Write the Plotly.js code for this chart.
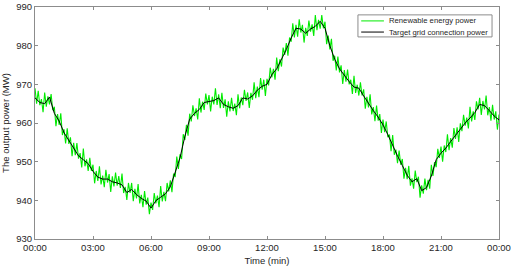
<!DOCTYPE html>
<html>
<head>
<meta charset="utf-8">
<script src="https://cdn.plot.ly/plotly-3.0.1.min.js"></script>
<style>
  html, body { margin: 0; padding: 0; background: #fff; }
  #chart { width: 512px; height: 272px; }
</style>
</head>
<body>
<div id="chart"></div>
<script>
// minutes since midnight, one sample every 5 min for the green series
const greenTimes = [];
for (let m = 0; m <= 1440; m += 5) greenTimes.push(m);

// renewable energy power (MW), every 5 min
const renewablePower = [
  969.0, 965.0, 968.3, 964.6, 966.2, 962.8, 967.9, 964.2, 966.9, 964.8, 967.5, 963.3,
  964.2, 959.2, 962.3, 959.5, 962.5, 956.9, 958.4, 954.7, 958.6, 954.6, 956.3, 951.4,
  954.9, 951.7, 954.8, 950.8, 952.2, 948.5, 953.4, 948.8, 950.6, 947.6, 951.0, 947.6,
  949.2, 944.4, 947.6, 945.0, 948.8, 944.1, 946.4, 943.4, 947.9, 944.6, 946.8, 942.2,
  946.2, 943.6, 947.2, 943.8, 946.3, 943.2, 946.9, 941.9, 943.5, 940.1, 944.5, 941.9,
  944.5, 939.8, 943.0, 940.5, 944.2, 939.2, 941.4, 938.2, 942.4, 938.9, 940.7, 936.4,
  939.4, 937.5, 941.9, 939.2, 941.2, 938.2, 943.7, 939.7, 942.2, 939.8, 944.5, 942.3,
  945.2, 942.1, 946.9, 946.0, 951.3, 948.1, 951.9, 950.7, 957.1, 955.6, 959.5, 956.7,
  962.4, 960.4, 964.6, 961.8, 963.8, 960.9, 966.4, 962.7, 965.5, 963.4, 967.6, 964.8,
  967.2, 963.0, 966.8, 964.8, 969.0, 964.7, 967.4, 963.8, 967.8, 963.9, 966.1, 961.6,
  965.6, 963.0, 966.5, 963.1, 965.0, 962.0, 967.4, 963.8, 966.6, 964.6, 968.6, 965.7,
  967.9, 963.9, 967.8, 966.0, 970.5, 966.4, 969.4, 966.7, 971.6, 968.6, 971.2, 967.0,
  971.4, 969.7, 974.3, 971.8, 974.0, 971.2, 976.9, 973.4, 976.5, 974.6, 979.5, 977.6,
  980.7, 977.4, 982.1, 981.0, 985.8, 982.1, 985.4, 982.3, 986.8, 983.4, 985.4, 980.8,
  984.6, 982.5, 986.5, 983.6, 985.5, 982.5, 987.9, 984.0, 986.7, 984.4, 987.9, 984.5,
  986.2, 980.4, 982.6, 979.0, 981.8, 976.1, 977.4, 973.6, 977.2, 973.1, 974.9, 970.1,
  973.7, 970.7, 973.8, 970.0, 971.2, 967.5, 972.2, 967.8, 969.9, 967.1, 970.5, 967.1,
  968.7, 963.7, 966.8, 964.0, 967.4, 962.2, 964.1, 960.5, 964.5, 960.6, 962.3, 957.4,
  960.9, 957.6, 960.4, 956.3, 957.0, 952.7, 956.9, 951.8, 953.1, 949.6, 952.9, 949.2,
  950.7, 945.6, 948.4, 945.5, 948.9, 943.8, 945.7, 943.0, 947.7, 944.7, 946.1, 940.7,
  943.9, 941.7, 945.6, 942.6, 945.3, 943.0, 949.2, 946.3, 949.9, 948.6, 953.3, 951.0,
  953.9, 950.0, 954.2, 952.5, 957.1, 953.0, 956.1, 953.6, 958.7, 955.9, 958.9, 955.1,
  959.9, 957.9, 962.1, 959.3, 961.4, 958.6, 964.2, 960.4, 963.0, 960.8, 965.6, 963.5,
  966.5, 962.1, 965.7, 963.5, 967.1, 962.0, 964.1, 960.6, 964.7, 960.9, 963.0, 958.3,
  962.2
];

// target grid connection power (MW), every 15 min
const targetTimes = [];
for (let m = 0; m <= 1440; m += 15) targetTimes.push(m);
const targetPower = [
  966.5, 965.3, 965.0, 966.7, 962.5, 960.5, 957.5, 955.5, 953.5, 951.5, 950.5, 949.5,
  947.5, 946.0, 945.5, 945.5, 944.8, 944.5, 944.0, 942.0, 942.8, 941.5, 940.5, 939.8,
  938.0, 939.9, 940.8, 941.7, 943.5, 947.0, 951.0, 956.5, 961.0, 962.5, 963.5, 965.3,
  965.5, 965.8, 966.5, 964.8, 964.2, 963.8, 964.5, 966.5, 966.2, 967.0, 968.5, 969.5,
  970.0, 972.5, 974.0, 976.5, 979.0, 982.0, 984.5, 984.3, 983.2, 984.3, 985.0, 986.3,
  984.5, 980.0, 976.5, 974.0, 972.3, 970.7, 969.3, 969.0, 967.0, 965.0, 963.2, 961.5,
  959.5, 957.0, 954.0, 951.5, 949.0, 946.5, 944.8, 945.6, 942.5, 943.3, 946.3, 950.5,
  952.2, 953.5, 955.2, 956.8, 958.5, 960.0, 961.3, 962.7, 964.8, 964.5, 963.2, 961.8,
  960.8
];

const seriesNames = ['Renewable energy power', 'Target grid connection power'];
const seriesColors = ['rgb(0,235,0)', '#000000'];

const tickVals = [0, 180, 360, 540, 720, 900, 1080, 1260, 1440];
const tickText = ['00:00', '03:00', '06:00', '09:00', '12:00', '15:00', '18:00', '21:00', '00:00'];
const yTicks = [930, 940, 950, 960, 970, 980, 990];

const font = { family: 'Liberation Sans, Arial, sans-serif', size: 9.5, color: '#262626' };
const axisGrey = '#8c8c8c';

const traces = [
  {
    x: greenTimes, y: renewablePower, type: 'scatter', mode: 'lines',
    name: seriesNames[0], line: { color: seriesColors[0], width: 1.1 }
  },
  {
    x: targetTimes, y: targetPower, type: 'scatter', mode: 'lines',
    name: seriesNames[1], line: { color: seriesColors[1], width: 1 }
  }
];

// hand-built legend box (plotly's own legend rows are too tall for this one)
const legBox = { x0: 0.696, x1: 0.985, y0: 0.871, y1: 0.966 };
const legRows = [0.940, 0.892];
const shapes = [{
  type: 'rect', xref: 'paper', yref: 'paper',
  x0: legBox.x0, x1: legBox.x1, y0: legBox.y0, y1: legBox.y1,
  fillcolor: '#fff', line: { color: axisGrey, width: 1 }, layer: 'above'
}];
const annotations = [];
seriesNames.forEach((name, i) => {
  shapes.push({
    type: 'line', xref: 'paper', yref: 'paper',
    x0: 0.703, x1: 0.752, y0: legRows[i], y1: legRows[i],
    line: { color: seriesColors[i], width: 1 }, layer: 'above'
  });
  annotations.push({
    xref: 'paper', yref: 'paper', x: 0.758, y: legRows[i],
    xanchor: 'left', yanchor: 'middle', showarrow: false,
    text: name, font: { family: font.family, size: 7.7, color: '#262626' }
  });
});

const axisCommon = {
  showgrid: false, zeroline: false,
  showline: true, mirror: 'ticks', linecolor: axisGrey, linewidth: 1,
  ticks: 'inside', ticklen: 3, tickcolor: axisGrey,
  tickfont: font
};

const layout = {
  width: 512, height: 272,
  margin: { l: 35, r: 13, t: 7, b: 33 },
  paper_bgcolor: '#fff', plot_bgcolor: '#fff',
  font: font,
  showlegend: false,
  shapes: shapes,
  annotations: annotations,
  xaxis: Object.assign({}, axisCommon, {
    range: [0, 1440], tickvals: tickVals, ticktext: tickText,
    title: { text: 'Time (min)', font: font, standoff: 4 }
  }),
  yaxis: Object.assign({}, axisCommon, {
    range: [930, 990], tickvals: yTicks,
    title: { text: 'The output power (MW)', font: font, standoff: 4 }
  })
};

Plotly.newPlot('chart', traces, layout, { displayModeBar: false, staticPlot: true });
</script>
</body>
</html>
